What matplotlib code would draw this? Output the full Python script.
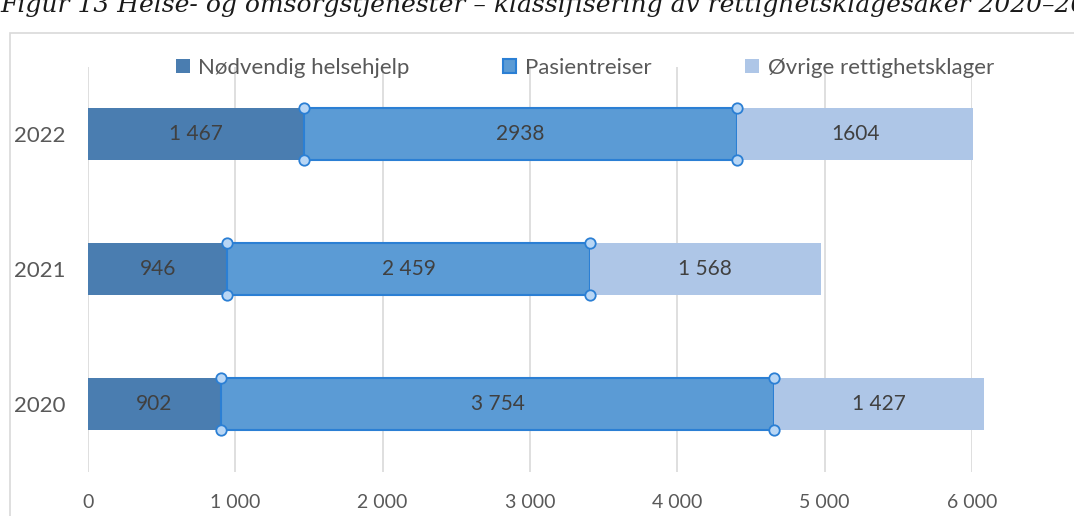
#!/usr/bin/env python3

from matplotlib import pyplot as plt
from matplotlib.patches import Rectangle
import numpy as np


'''
Figur 13 - klassifisering av rettighetsklagesaker, stacked bars
'''

years       = ['2022', '2021', '2020']
nodvendig   = [1467, 946, 902]
pasient     = [2938, 2459, 3754]
ovrige      = [1604, 1568, 1427]
lbl_nodv    = ['1 467', '946', '902']
lbl_pas     = ['2938', '2 459', '3 754']
lbl_ovr     = ['1604', '1 568', '1 427']
series_names = ['Nødvendig helsehjelp', 'Pasientreiser', 'Øvrige rettighetsklager']
x_ticks     = [0, 1000, 2000, 3000, 4000, 5000, 6000]
x_ticklbl   = ['0', '1 000', '2 000', '3 000', '4 000', '5 000', '6 000']

c_dark  = '#4A7DB0'
c_mid   = '#5B9BD5'
c_light = '#AEC6E7'
c_grey  = '#595959'

plt.rcParams['font.family'] = ['Lato', 'DejaVu Sans']

fig = plt.figure(figsize=(10.74, 5.16), dpi=100)

# title, cut off at the top like in the source
fig.text(0.0, 1 - 12/516, 'Figur 13 Helse- og omsorgstjenester – klassifisering av rettighetsklagesaker 2020–2022',
         family='DejaVu Serif', style='italic', fontsize=18, color='#1a1a1a', va='baseline', ha='left')

# chart frame
fig.patches.append(Rectangle((10/1074, -0.05), 1.1, 1 - 33/516 + 0.05, transform=fig.transFigure,
                             fill=False, edgecolor='#D9D9D9', linewidth=1.2))

ax = fig.add_axes([88/1074, 1 - 471.5/516, 884/1074, 405/516])

y = np.arange(len(years))
h = 0.385
left2 = np.array(nodvendig)
left3 = left2 + np.array(pasient)

ax.barh(y, nodvendig, height=h, color=c_dark, label=series_names[0], zorder=2, clip_on=False)
ax.barh(y, pasient, height=h, left=left2, color=c_mid, edgecolor='#2B7FD4', linewidth=1.5,
        label=series_names[1], zorder=2, clip_on=False)
ax.barh(y, ovrige, height=h, left=left3, color=c_light, label=series_names[2], zorder=2, clip_on=False)

# selection handles on the middle series
for i in range(len(years)):
    xs = [left2[i], left2[i], left3[i], left3[i]]
    ys = [y[i] - h/2, y[i] + h/2, y[i] - h/2, y[i] + h/2]
    ax.plot(xs, ys, 'o', ms=7.5, mfc='#B8D6F5', mec='#2B7FD4', mew=1.3, ls='none', zorder=4, clip_on=False)

for i in range(len(years)):
    ax.text(nodvendig[i]/2, y[i], lbl_nodv[i], ha='center', va='center', fontsize=15, color='#404040', zorder=5)
    ax.text(left2[i] + pasient[i]/2, y[i], lbl_pas[i], ha='center', va='center', fontsize=15, color='#404040', zorder=5)
    ax.text(left3[i] + ovrige[i]/2, y[i], lbl_ovr[i], ha='center', va='center', fontsize=15, color='#404040', zorder=5)

ax.set_xlim(0, 6000)
ax.set_ylim(2.5, -0.5)
ax.set_yticks(y, years)
ax.set_xticks(x_ticks, x_ticklbl)
ax.tick_params(axis='both', length=0, labelcolor=c_grey)
ax.tick_params(axis='y', pad=16, labelsize=16)
ax.tick_params(axis='x', pad=16, labelsize=14)
ax.grid(axis='x', color='#D9D9D9', linewidth=1.2, zorder=0)
for s in ax.spines.values():
    s.set_visible(False)

fig.legend(loc='center', bbox_to_anchor=(585/1074, 1 - 68/516), ncol=3, frameon=False,
           fontsize=16, labelcolor=c_grey, handlelength=0.6, handleheight=0.6, handletextpad=0.4,
           columnspacing=4.2,
           handles=ax.get_legend_handles_labels()[0][:3])

plt.savefig('out.png', dpi=100)
